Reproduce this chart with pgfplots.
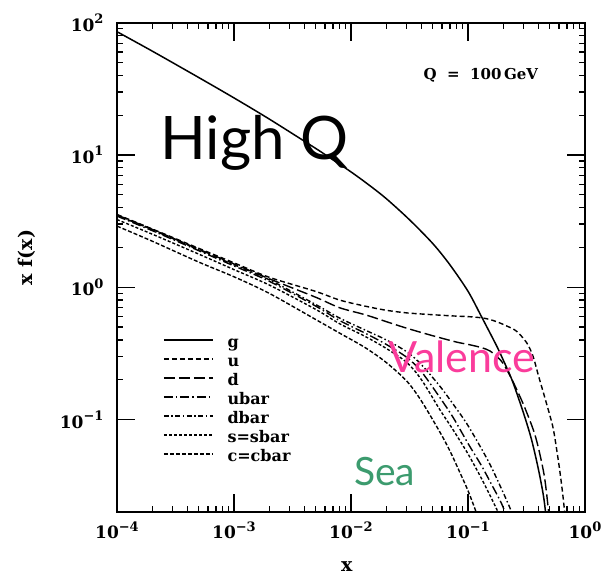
\documentclass[border=0pt]{standalone}
\usepackage{fontspec}
\setmainfont{DejaVu Serif}
\newfontfamily\gill{Lato}
\usepackage{pgfplots}
\pgfplotsset{compat=1.18}
\definecolor{valpink}{RGB}{250,60,155}
\definecolor{seagreen}{RGB}{60,155,110}
\newcommand{\tl}[1]{10\raisebox{0.45em}{\fontsize{13}{13}\selectfont #1}}
\begin{document}
\begin{tikzpicture}
\path[use as bounding box] (-117pt,-66pt) rectangle (487pt,512pt);
\begin{axis}[
  at={(0pt,0pt)}, anchor=south west,
  scale only axis, width=468pt, height=489.3pt,
  xmode=log, ymode=log,
  xmin=1e-4, xmax=1, ymin=0.02, ymax=100,
  xtick={1e-4,1e-3,1e-2,1e-1,1},
  xticklabels={\tl{−4},\tl{−3},\tl{−2},\tl{−1},\tl{0}},
  ytick={0.1,1,10,100},
  yticklabels={\tl{−1},\tl{0},\tl{1},\tl{2}},
  tick align=inside,
  major tick length=18pt, minor tick length=6pt,
  every tick/.style={black, line width=1.3pt},
  axis line style={line width=1.8pt},
  tick label style={font=\bfseries\fontsize{17}{17}\selectfont},
  xticklabel style={yshift=-6pt},
  yticklabel style={xshift=-10pt},
  xlabel={x},
  xlabel style={font=\bfseries\fontsize{19}{19}\selectfont, at={(rel axis cs:0.491,-0.112)}, anchor=center},
  ylabel={x f(x)},
  ylabel style={font=\bfseries\fontsize{19}{19}\selectfont, at={(rel axis cs:-0.192,0.52)}, anchor=center},
  legend style={at={(rel axis cs:0.098,0.363)}, anchor=north west, draw=none, fill=none,
    inner sep=0pt, column sep=14pt, row sep=0pt,
    font=\bfseries\fontsize{16}{16}\selectfont,
    nodes={inner xsep=0pt, inner ysep=3pt, text height=10pt, text depth=3pt}},
  legend cell align=left,
  legend image code/.code={\draw[#1] (0pt,4pt) -- (49pt,4pt);},
]
\addplot[black, line width=1.5pt, smooth] coordinates {
(1e-4,85.5)(2e-4,61)(5e-4,38.5)(1e-3,27)(2e-3,18.7)(5e-3,11.2)(7e-3,9.2)(1e-2,7.45)(0.014,6.0)(0.02,4.68)(0.0316,3.24)(0.05,2.14)(0.07,1.48)(0.1,0.933)(0.13,0.603)(0.175,0.363)(0.2,0.282)(0.24,0.195)(0.3,0.11)(0.35,0.07)(0.4,0.042)(0.44,0.027)(0.46,0.02)(0.47,0.016)};
\addlegendentry{g}
\addplot[black, line width=1.4pt, smooth, dash pattern=on 5pt off 3pt] coordinates {
(1e-4,3.55)(2e-4,2.76)(5e-4,1.97)(1e-3,1.53)(2e-3,1.19)(5e-3,0.93)(8e-3,0.80)(0.0132,0.72)(0.02,0.67)(0.03,0.64)(0.05,0.62)(0.08,0.605)(0.1,0.60)(0.135,0.585)(0.17,0.555)(0.214,0.51)(0.26,0.465)(0.318,0.38)(0.36,0.30)(0.4,0.215)(0.45,0.15)(0.5,0.108)(0.54,0.082)(0.6,0.045)(0.64,0.029)(0.67,0.02)(0.69,0.015)};
\addlegendentry{u}
\addplot[black, line width=1.4pt, smooth, dash pattern=on 11pt off 4pt] coordinates {
(1e-4,3.52)(2e-4,2.74)(5e-4,1.94)(1e-3,1.50)(2e-3,1.16)(5e-3,0.84)(8e-3,0.70)(0.0132,0.62)(0.02,0.55)(0.03,0.49)(0.05,0.43)(0.08,0.385)(0.1,0.37)(0.13,0.35)(0.154,0.33)(0.18,0.295)(0.2,0.265)(0.225,0.22)(0.252,0.18)(0.3,0.128)(0.361,0.084)(0.4,0.061)(0.45,0.037)(0.486,0.021)(0.5,0.016)};
\addlegendentry{d}
\addplot[black, line width=1.4pt, smooth, dash pattern=on 9pt off 3pt on 1.5pt off 3pt] coordinates {
(1e-4,3.45)(2e-4,2.68)(5e-4,1.89)(1e-3,1.45)(2e-3,1.11)(5e-3,0.72)(8e-3,0.56)(0.0132,0.45)(0.02,0.37)(0.03,0.295)(0.04,0.23)(0.0577,0.146)(0.075,0.103)(0.1,0.066)(0.13,0.045)(0.16,0.032)(0.19,0.024)(0.207,0.02)(0.22,0.017)};
\addlegendentry{ubar}
\addplot[black, line width=1.4pt, smooth, dash pattern=on 5pt off 2.5pt on 1.5pt off 2.5pt] coordinates {
(1e-4,3.50)(2e-4,2.72)(5e-4,1.92)(1e-3,1.48)(2e-3,1.14)(5e-3,0.74)(8e-3,0.585)(0.0132,0.475)(0.02,0.40)(0.03,0.325)(0.04,0.26)(0.0577,0.178)(0.075,0.13)(0.1,0.09)(0.15,0.048)(0.2,0.028)(0.236,0.02)(0.25,0.017)};
\addlegendentry{dbar}
\addplot[black, line width=1.4pt, smooth, dash pattern=on 3pt off 2pt] coordinates {
(1e-4,3.25)(2e-4,2.52)(5e-4,1.78)(1e-3,1.36)(2e-3,1.04)(5e-3,0.68)(8e-3,0.53)(0.0132,0.425)(0.02,0.345)(0.03,0.27)(0.04,0.20)(0.0577,0.118)(0.075,0.083)(0.1,0.055)(0.13,0.036)(0.16,0.025)(0.188,0.0185)(0.2,0.016)};
\addlegendentry{s=sbar}
\addplot[black, line width=1.4pt, smooth, dash pattern=on 4pt off 2pt] coordinates {
(1e-4,2.90)(2e-4,2.23)(5e-4,1.55)(1e-3,1.20)(2e-3,0.90)(5e-3,0.57)(8e-3,0.45)(0.0132,0.35)(0.02,0.27)(0.03,0.195)(0.04,0.138)(0.0577,0.08)(0.07,0.058)(0.085,0.040)(0.1,0.029)(0.115,0.021)(0.122,0.018)};
\addlegendentry{c=cbar}
\node[anchor=base west, inner sep=0pt, font=\gill\fontsize{60}{60}\selectfont] at (rel axis cs:0.092,0.72) {High Q};
\node[anchor=base west, inner sep=0pt, text=valpink, font=\gill\fontsize{43}{43}\selectfont] at (rel axis cs:0.579,0.285) {Valence};
\node[anchor=base west, inner sep=0pt, text=seagreen, font=\gill\fontsize{39}{39}\selectfont] at (rel axis cs:0.506,0.055) {Sea};
\node[anchor=west, inner sep=0pt, font=\bfseries\fontsize{15}{15}\selectfont] at (rel axis cs:0.655,0.893) {Q\ \ =\ \ 100\,GeV};
\end{axis}
\end{tikzpicture}
\end{document}
